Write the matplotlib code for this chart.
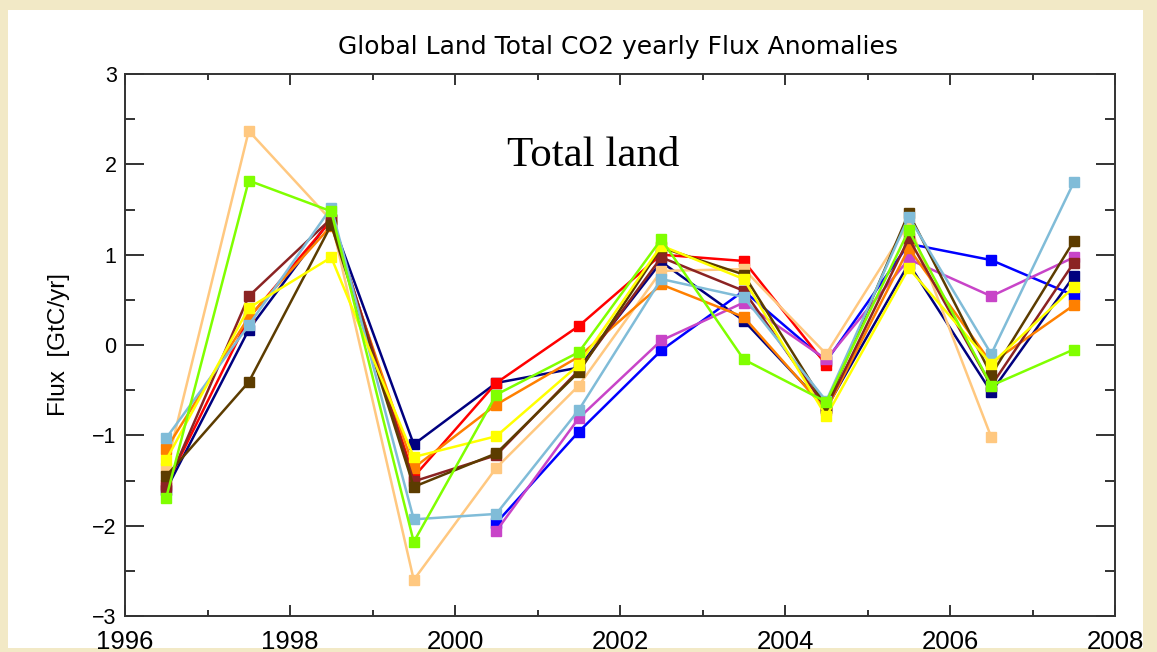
import matplotlib

matplotlib.use("Agg")
import matplotlib.pyplot as plt
import numpy as np
from matplotlib.patches import Rectangle
from matplotlib.ticker import MultipleLocator

nan = np.nan

years = [1996.5, 1997.5, 1998.5, 1999.5, 2000.5, 2001.5,
         2002.5, 2003.5, 2004.5, 2005.5, 2006.5, 2007.5]

# yearly flux anomalies [GtC/yr], one list per model
navy = [-1.60, 0.17, 1.40, -1.10, -0.42, -0.25, 0.92, 0.27, -0.70, 0.90, -0.52, 0.76]
blue = [nan, nan, nan, nan, -1.97, -0.96, -0.06, 0.60, -0.18, 1.12, 0.94, 0.55]
red = [-1.55, 0.30, 1.38, -1.46, -0.42, 0.21, 1.00, 0.93, -0.22, nan, nan, nan]
magenta = [nan, nan, nan, nan, -2.06, -0.81, 0.05, 0.47, -0.16, 0.95, 0.54, 0.97]
tan = [-1.36, 2.37, 1.38, -2.60, -1.36, -0.45, 0.82, 0.84, -0.10, 1.35, -1.02, nan]
skyblue = [-1.03, 0.22, 1.52, -1.93, -1.87, -0.72, 0.73, 0.53, -0.62, 1.42, -0.10, 1.80]
orange = [-1.15, 0.31, 1.32, -1.36, -0.66, -0.13, 0.67, 0.31, -0.72, 1.07, -0.20, 0.44]
maroon = [-1.57, 0.54, 1.40, -1.51, -1.22, -0.28, 0.97, 0.60, -0.70, 1.18, -0.45, 0.91]
brown = [-1.45, -0.41, 1.33, -1.57, -1.20, -0.30, 1.08, 0.78, -0.68, 1.46, -0.33, 1.15]
yellow = [-1.27, 0.41, 0.97, -1.24, -1.01, -0.22, 1.10, 0.73, -0.79, 0.85, -0.21, 0.64]
green = [-1.69, 1.82, 1.48, -2.18, -0.55, -0.08, 1.17, -0.16, -0.63, 1.27, -0.45, -0.05]

series = [
    (navy, "#00007f"),
    (blue, "#0000ff"),
    (red, "#ff0000"),
    (magenta, "#c844c8"),
    (tan, "#ffc880"),
    (orange, "#ff8000"),
    (maroon, "#8b2323"),
    (brown, "#5c3c00"),
    (skyblue, "#80bcd8"),
    (yellow, "#ffff00"),
    (green, "#80ff00"),
]

W, H = 1157, 652
fig = plt.figure(figsize=(W / 100, H / 100), dpi=100)
fig.patch.set_facecolor("#f2e9c6")
# white card behind the plot
fig.patches.append(Rectangle((8 / W, 4 / H), 1135 / W, 638 / H, transform=fig.transFigure,
                             facecolor="white", edgecolor="none", zorder=-10))

ax = fig.add_axes([125 / W, 1 - 616 / H, 990 / W, 542 / H])
ax.set_facecolor("white")

for values, color in series:
    ax.plot(years, values, color=color, lw=1.8, marker="s", ms=7.5, mec=color, mfc=color)

ax.set_xlim(1996, 2008)
ax.set_ylim(-3, 3)
ax.xaxis.set_major_locator(MultipleLocator(2))
ax.xaxis.set_minor_locator(MultipleLocator(1))
ax.yaxis.set_major_locator(MultipleLocator(1))
ax.yaxis.set_minor_locator(MultipleLocator(0.5))

for spine in ax.spines.values():
    spine.set_color("#333333")
    spine.set_linewidth(1.4)

ax.tick_params(axis="both", which="both", direction="in", colors="#333333", width=1.4,
               top=True, right=True)
ax.tick_params(axis="x", which="major", length=8, pad=10, labelsize=18.5, labelcolor="black")
ax.tick_params(axis="x", which="minor", length=4)
ax.tick_params(axis="y", which="major", length=14, pad=6, labelsize=15.5, labelcolor="black")
ax.tick_params(axis="y", which="minor", length=7)
for lbl in ax.get_xticklabels() + ax.get_yticklabels():
    lbl.set_family("Liberation Sans")

ax.set_ylabel("Flux  [GtC/yr]", family="Liberation Sans", fontsize=17.5)
ax.yaxis.set_label_coords(-0.0556, 0.5)

fig.text(618 / W, 1 - 47 / H, "Global Land Total CO2 yearly Flux Anomalies",
         ha="center", va="center", family="DejaVu Sans", fontsize=18)
ax.text(2001.67, 2.10, "Total land", ha="center", va="center",
        family="Liberation Serif", fontsize=31)

fig.savefig("out.png", dpi=100, facecolor=fig.get_facecolor())
